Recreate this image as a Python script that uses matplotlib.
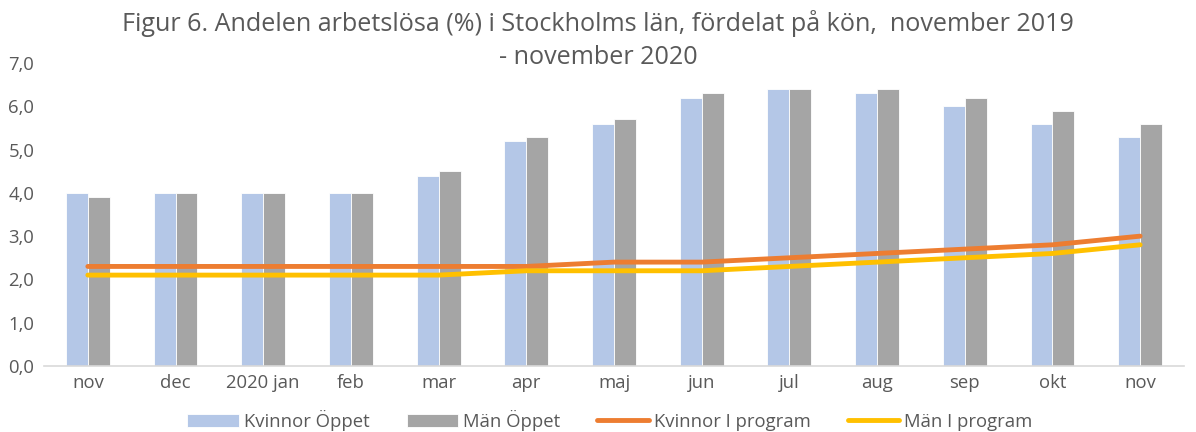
import matplotlib
matplotlib.use("Agg")
import matplotlib.pyplot as plt
import numpy as np

categories = ["nov", "dec", "2020 jan", "feb", "mar", "apr", "maj", "jun", "jul", "aug", "sep", "okt", "nov"]
kvinnor_oppet = [4.0, 4.0, 4.0, 4.0, 4.4, 5.2, 5.6, 6.2, 6.4, 6.3, 6.0, 5.6, 5.3]
man_oppet = [3.9, 4.0, 4.0, 4.0, 4.5, 5.3, 5.7, 6.3, 6.4, 6.4, 6.2, 5.9, 5.6]
kvinnor_program = [2.3, 2.3, 2.3, 2.3, 2.3, 2.3, 2.4, 2.4, 2.5, 2.6, 2.7, 2.8, 3.0]
man_program = [2.1, 2.1, 2.1, 2.1, 2.1, 2.2, 2.2, 2.2, 2.3, 2.4, 2.5, 2.6, 2.8]
yticks = [0, 1, 2, 3, 4, 5, 6, 7]

plt.rcParams['font.family'] = ['Open Sans', 'DejaVu Sans']
txt = '#595959'

fig = plt.figure(figsize=(11.96, 4.32), dpi=100)
ax = fig.add_axes([44/1196, 1-366/432, 1140/1196, (366-63)/432])

x = np.arange(len(categories))
w = 0.25
b1 = ax.bar(x - w/2, kvinnor_oppet, w, color='#b4c7e7', edgecolor='white', linewidth=0.6, label='Kvinnor Öppet', zorder=2)
b2 = ax.bar(x + w/2, man_oppet, w, color='#a5a5a5', edgecolor='white', linewidth=0.6, label='Män Öppet', zorder=2)
l1, = ax.plot(x, kvinnor_program, color='#ed7d31', lw=3.5, solid_capstyle='round', label='Kvinnor I program', zorder=3)
l2, = ax.plot(x, man_program, color='#ffc000', lw=3.5, solid_capstyle='round', label='Män I program', zorder=3)

ax.set_xlim(-0.5, len(categories) - 0.5)
ax.set_ylim(0, 7)
ax.set_yticks(yticks)
ax.set_yticklabels([f"{v:.1f}".replace('.', ',') for v in yticks])
ax.set_xticks(x)
ax.set_xticklabels(categories)
ax.tick_params(axis='both', length=0, labelsize=13.3, colors=txt)
ax.tick_params(axis='x', pad=6)
ax.tick_params(axis='y', pad=7)
for s in ['top', 'right', 'left']:
    ax.spines[s].set_visible(False)
ax.spines['bottom'].set_color('#d9d9d9')
ax.spines['bottom'].set_linewidth(1.2)

fig.text(0.5, 1 - 40/432, "Figur 6. Andelen arbetslösa (%) i Stockholms län, fördelat på kön,  november 2019\n- november 2020",
         ha='center', va='center', fontsize=18.1, color=txt, linespacing=1.4)

fig.legend(handles=[b1, b2, l1, l2], loc='center', bbox_to_anchor=(610/1196, 1 - 420/432), ncol=4, frameon=False,
           fontsize=13.3, handlelength=2.8, handletextpad=0.27, columnspacing=2.0, labelcolor=txt,
           borderpad=0, borderaxespad=0)

fig.savefig("out.png", dpi=100)
